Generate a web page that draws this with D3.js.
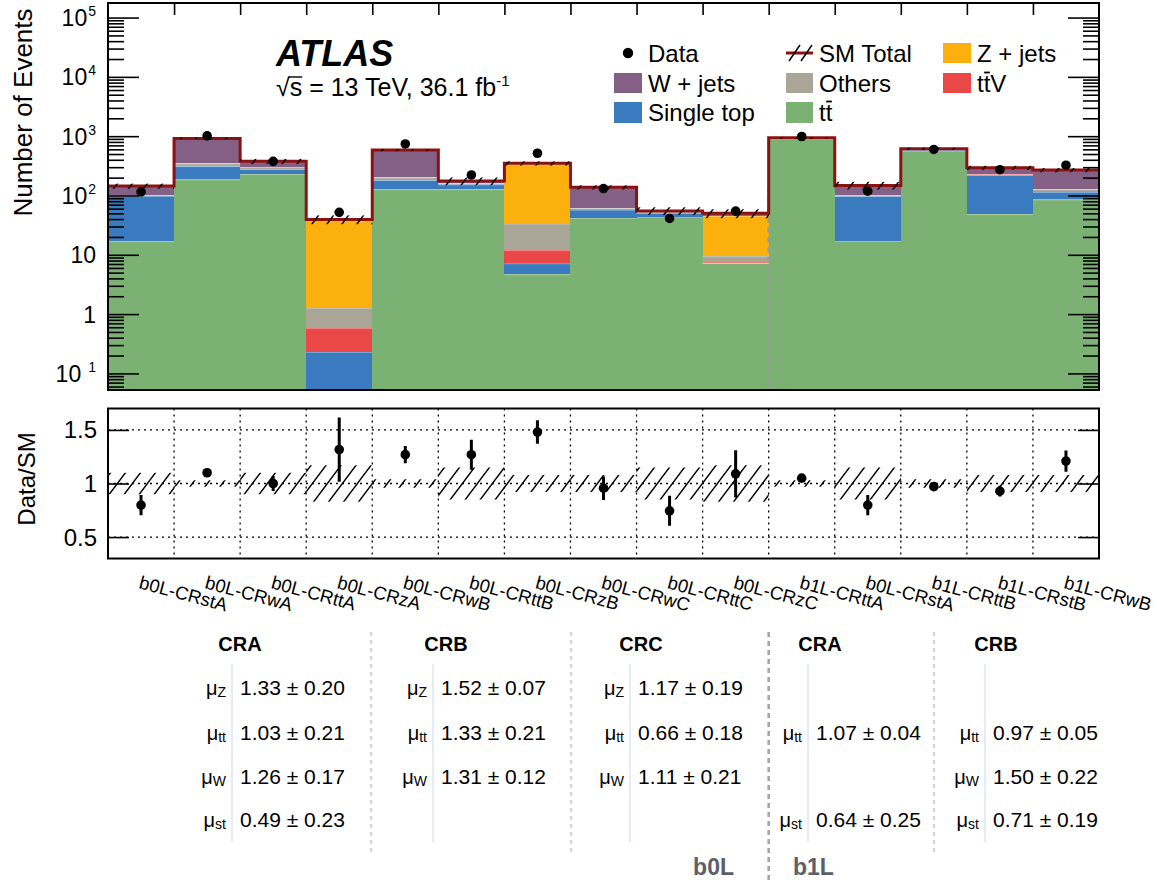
<!DOCTYPE html>
<html><head><meta charset="utf-8">
<script src="https://cdn.jsdelivr.net/npm/d3@7"></script>
<style>
html,body{margin:0;padding:0;background:#fff;}
svg{display:block;font-family:"Liberation Sans",Arial,Helvetica,sans-serif;}
</style></head><body>
<svg id="chart" width="1157" height="884"></svg>
<script>
// ---------------- data ----------------
const categories = ["b0L-CRstA","b0L-CRwA","b0L-CRttA","b0L-CRzA","b0L-CRwB","b0L-CRttB","b0L-CRzB","b0L-CRwC","b0L-CRttC","b0L-CRzC","b1L-CRttA","b0L-CRstA","b1L-CRttB","b1L-CRstB","b1L-CRwB"];
const ttbar     = [17, 187, 230, 0.03, 128, 128, 4.7, 42, 44, 7.3, 900, 17.2, 572, 48.5, 86];
const singleTop = [83, 126, 49, 0.2, 54, 26, 2.5, 16, 7, 0.05, 20, 82, 20, 177, 29];
const ttV       = [0.3, 1, 2, 0.35, 2, 2, 4.8, 0.5, 0.5, 0.15, 5, 0.3, 5, 0.5, 3];
const others    = [0.7, 34, 24, 0.7, 18, 6, 21.7, 2, 1, 2, 10, 0.8, 6, 1.5, 10];
const zjets     = [0.5, 5, 3, 37, 3, 1, 306, 1, 1, 36, 2, 0.5, 2, 0.5, 2];
const wjets     = [42.5, 565, 68, 1.2, 378, 12, 8.3, 75.5, 1.5, 4.5, 3, 47, 10, 65, 138];
const dataObs   = [115, 1010, 376, 52, 740, 222, 515, 131, 41, 54.5, 987, 118, 597, 272, 324];
const dataRatioErr = [0.095, 0.03, 0.07, 0.30, 0.08, 0.14, 0.11, 0.11, 0.14, 0.22, 0.02, 0.095, 0.03, 0.05, 0.10];
const smRelUnc  = [0.10, 0.03, 0.10, 0.17, 0.04, 0.15, 0.08, 0.08, 0.15, 0.17, 0.03, 0.15, 0.04, 0.08, 0.08];

const yTickValues = [0.1, 1, 10, 100, 1000, 10000, 100000];
const yTickBase   = ["10", "1", "10", "10", "10", "10", "10"];
const yTickSup    = ["1", "", "", "2", "3", "4", "5"];
const ratioTicks  = [0.5, 1, 1.5];
const ratioTickLabels = ["0.5", "1", "1.5"];

const muNames   = ["Z", "tt", "W", "st"];
const tblHeaders = ["CRA", "CRB", "CRC", "CRA", "CRB"];
const b0L_CRA = ["1.33 ± 0.20", "1.03 ± 0.21", "1.26 ± 0.17", "0.49 ± 0.23"];
const b0L_CRB = ["1.52 ± 0.07", "1.33 ± 0.21", "1.31 ± 0.12", null];
const b0L_CRC = ["1.17 ± 0.19", "0.66 ± 0.18", "1.11 ± 0.21", null];
const b1L_CRA = [null, "1.07 ± 0.04", null, "0.64 ± 0.25"];
const b1L_CRB = [null, "0.97 ± 0.05", "1.50 ± 0.22", "0.71 ± 0.19"];
const regionLabels = ["b0L", "b1L"];

const keys = ["ttbar","singleTop","ttV","others","zjets","wjets"];
const colors = {ttbar:"#7bb274", singleTop:"#3a7bbf", ttV:"#ea4848", others:"#a9a697", zjets:"#fcb00e", wjets:"#846087"};

// ---------------- layout ----------------
const xL = 108, xR = 1099, yT = 3, yB = 390;
const rT = 408.5, rB = 558.5;
const nB = categories.length;

const svg = d3.select("#chart");
const x = d3.scaleBand().domain(d3.range(nB)).range([xL, xR]).padding(0);
const xEdge = d3.scaleLinear().domain([0, nB]).range([xL, xR]);
const y = d3.scaleLog().domain([0.0525, 1.76e5]).range([yB, yT]).clamp(true);
const yr = d3.scaleLinear().domain([0.3, 1.7]).range([rB, rT]);

const table = categories.map((c, i) => ({i, ttbar: ttbar[i], singleTop: singleTop[i], ttV: ttV[i], others: others[i], zjets: zjets[i], wjets: wjets[i]}));
const stacked = d3.stack().keys(keys)(table);
const total = table.map(d => keys.reduce((s, k) => s + d[k], 0));
const ratio = dataObs.map((v, i) => v / total[i]);

const defs = svg.append("defs");
const pat = defs.append("pattern").attr("id", "hatch").attr("patternUnits", "userSpaceOnUse")
  .attr("width", 15).attr("height", 20);
pat.append("path").attr("d", "M-3.75,5 L3.75,-5 M0,20 L15,0 M11.25,25 L18.75,15")
  .attr("stroke", "#000").attr("stroke-width", 1.4).attr("fill", "none");
defs.append("clipPath").attr("id", "clipTop").append("rect")
  .attr("x", xL).attr("y", yT).attr("width", xR - xL).attr("height", yB - yT);
defs.append("clipPath").attr("id", "clipRat").append("rect")
  .attr("x", xL).attr("y", rT).attr("width", xR - xL).attr("height", rB - rT);

// ---------------- top panel ----------------
const gTop = svg.append("g").attr("clip-path", "url(#clipTop)");
stacked.forEach(layer => {
  gTop.append("g").selectAll("rect").data(layer).join("rect")
    .attr("x", d => x(d.data.i)).attr("width", x.bandwidth())
    .attr("y", d => y(d[1])).attr("height", d => Math.max(0, y(d[0]) - y(d[1])))
    .attr("fill", colors[layer.key]).attr("shape-rendering", "crispEdges");
  gTop.append("g").selectAll("line").data(layer.filter(d => d[1] - d[0] > 0)).join("line")
    .attr("x1", d => x(d.data.i)).attr("x2", d => x(d.data.i) + x.bandwidth())
    .attr("y1", d => y(d[1]) + 0.5).attr("y2", d => y(d[1]) + 0.5)
    .attr("stroke", "#ffffff").attr("stroke-opacity", 0.35).attr("stroke-width", 1);
});

// dashed separator b0L | b1L
gTop.append("line").attr("x1", xEdge(10)).attr("x2", xEdge(10))
  .attr("y1", y(140)).attr("y2", yB)
  .attr("stroke", "#9b9b9b").attr("stroke-width", 2.5).attr("stroke-dasharray", "6,4");

// SM total line
const totPts = d3.range(nB + 1).map(k => [xEdge(k), y(total[Math.min(k, nB - 1)])]);
gTop.append("path").attr("d", d3.line().curve(d3.curveStepAfter)(totPts))
  .attr("fill", "none").attr("stroke", "#8c1111").attr("stroke-width", 3);

// uncertainty hatch band
gTop.append("g").selectAll("rect").data(total).join("rect")
  .attr("x", (d, i) => x(i)).attr("width", x.bandwidth())
  .attr("y", (d, i) => y(d * (1 + smRelUnc[i])))
  .attr("height", (d, i) => y(d * (1 - smRelUnc[i])) - y(d * (1 + smRelUnc[i])))
  .attr("fill", "url(#hatch)");

// data points
gTop.append("g").selectAll("circle").data(dataObs).join("circle")
  .attr("cx", (d, i) => x(i) + x.bandwidth() / 2).attr("cy", d => y(d)).attr("r", 4.8).attr("fill", "#000");

// axes (ticks) top panel
const minorVals = [];
for (let e = -2; e <= 5; e++) for (let m = 2; m <= 9; m++) { const v = m * Math.pow(10, e); if (v > 0.0525 && v < 1.76e5) minorVals.push(v); }
function styleAxis(g) { g.select(".domain").remove(); g.selectAll("text").remove(); g.selectAll("line").attr("stroke", "#000").attr("stroke-width", 1.6); }
svg.append("g").attr("transform", `translate(${xL},0)`).call(d3.axisRight(y).tickValues(yTickValues).tickSize(31)).call(styleAxis);
svg.append("g").attr("transform", `translate(${xL},0)`).call(d3.axisRight(y).tickValues(minorVals).tickSize(16)).call(styleAxis);
svg.append("g").attr("transform", `translate(${xR},0)`).call(d3.axisLeft(y).tickValues(yTickValues).tickSize(31)).call(styleAxis);
svg.append("g").attr("transform", `translate(${xR},0)`).call(d3.axisLeft(y).tickValues(minorVals).tickSize(16)).call(styleAxis);
svg.append("g").attr("transform", `translate(0,${yT})`).call(d3.axisBottom(xEdge).tickValues(d3.range(1, nB)).tickSize(12)).call(styleAxis);

svg.append("rect").attr("x", xL).attr("y", yT).attr("width", xR - xL).attr("height", yB - yT)
  .attr("fill", "none").attr("stroke", "#000").attr("stroke-width", 2);

// y tick labels
yTickValues.forEach((v, i) => {
  const t = svg.append("text").attr("x", 96).attr("y", y(v) + 8.5).attr("text-anchor", "end")
    .attr("font-size", 23).attr("fill", "#000");
  t.append("tspan").text(yTickBase[i]);
  if (yTickSup[i]) {
    t.append("tspan").attr("dx", i === 0 ? 7 : 1).attr("dy", -10).attr("font-size", 14).text(yTickSup[i]);
  }
});
svg.append("text").attr("transform", `translate(32,${(7 + 218) / 2}) rotate(-90)`).attr("text-anchor", "middle")
  .attr("font-size", 26).text("Number of Events");

// ATLAS label
svg.append("text").attr("x", 276).attr("y", 66).attr("font-size", 36).attr("font-weight", "bold")
  .attr("font-style", "italic").text("ATLAS");
const lumi = svg.append("text").attr("x", 276).attr("y", 96).attr("font-size", 25);
lumi.append("tspan").text("√s = 13 TeV, 36.1 fb");
lumi.append("tspan").attr("dy", -10).attr("font-size", 15).text("-1");
{
  const n = lumi.node();
  const p = n.getStartPositionOfChar(1), w = n.getSubStringLength(1, 1);
  svg.append("line").attr("x1", p.x - 1).attr("x2", p.x + w).attr("y1", 96 - 19).attr("y2", 96 - 19)
    .attr("stroke", "#000").attr("stroke-width", 1.4);
}

// legend
const legText = (xx, yy, s) => svg.append("text").attr("x", xx).attr("y", yy).attr("font-size", 24).text(s);
const rowsY = [53, 83, 112];
svg.append("circle").attr("cx", 628).attr("cy", rowsY[0]).attr("r", 5.2).attr("fill", "#000");
legText(648, rowsY[0] + 8.5, "Data");
svg.append("rect").attr("x", 614).attr("y", rowsY[1] - 10).attr("width", 28).attr("height", 20).attr("fill", colors.wjets);
legText(648, rowsY[1] + 8.5, "W + jets");
svg.append("rect").attr("x", 614).attr("y", rowsY[2] - 10).attr("width", 28).attr("height", 21).attr("fill", colors.singleTop);
legText(648, rowsY[2] + 8.5, "Single top");

svg.append("line").attr("x1", 786).attr("x2", 813).attr("y1", rowsY[0]).attr("y2", rowsY[0]).attr("stroke", "#8c1111").attr("stroke-width", 3);
[789, 801].forEach(sx => svg.append("line").attr("x1", sx).attr("y1", rowsY[0] + 8).attr("x2", sx + 11).attr("y2", rowsY[0] - 8).attr("stroke", "#000").attr("stroke-width", 1.4));
legText(819, rowsY[0] + 8.5, "SM Total");
svg.append("rect").attr("x", 786).attr("y", rowsY[1] - 10).attr("width", 27).attr("height", 20).attr("fill", colors.others);
legText(819, rowsY[1] + 8.5, "Others");
svg.append("rect").attr("x", 786).attr("y", rowsY[2] - 10).attr("width", 27).attr("height", 21).attr("fill", colors.ttbar);
const ttbT = legText(819, rowsY[2] + 8.5, "tt");

svg.append("rect").attr("x", 943).attr("y", rowsY[0] - 10).attr("width", 28).attr("height", 20).attr("fill", colors.zjets);
legText(977, rowsY[0] + 8.5, "Z + jets");
svg.append("rect").attr("x", 943).attr("y", rowsY[1] - 10).attr("width", 28).attr("height", 20).attr("fill", colors.ttV);
const ttVT = legText(977, rowsY[1] + 8.5, "ttV");
[[ttbT, rowsY[2] + 8.5], [ttVT, rowsY[1] + 8.5]].forEach(([t, base]) => {
  const n = t.node();
  const p = n.getStartPositionOfChar(1), w = n.getSubStringLength(1, 1);
  svg.append("line").attr("x1", p.x + 0.5).attr("x2", p.x + w - 0.5).attr("y1", base - 19).attr("y2", base - 19)
    .attr("stroke", "#000").attr("stroke-width", 1.8);
});

// ---------------- ratio panel ----------------
const gR = svg.append("g").attr("clip-path", "url(#clipRat)");
gR.append("g").selectAll("line").data(ratioTicks).join("line")
  .attr("x1", xL).attr("x2", xR).attr("y1", d => yr(d)).attr("y2", d => yr(d))
  .attr("stroke", "#000").attr("stroke-width", 1.3).attr("stroke-dasharray", "2,4");
gR.append("g").selectAll("line").data(d3.range(1, nB)).join("line")
  .attr("x1", d => xEdge(d)).attr("x2", d => xEdge(d)).attr("y1", rT).attr("y2", rB)
  .attr("stroke", "#000").attr("stroke-width", 1.3).attr("stroke-dasharray", "2,4");
gR.append("g").selectAll("rect").data(smRelUnc).join("rect")
  .attr("x", (d, i) => x(i)).attr("width", x.bandwidth())
  .attr("y", d => yr(1 + d)).attr("height", d => yr(1 - d) - yr(1 + d))
  .attr("fill", "url(#hatch)");
gR.append("g").selectAll("line").data(ratio).join("line")
  .attr("x1", (d, i) => x(i) + x.bandwidth() / 2).attr("x2", (d, i) => x(i) + x.bandwidth() / 2)
  .attr("y1", (d, i) => yr(d - dataRatioErr[i])).attr("y2", (d, i) => yr(d + dataRatioErr[i]))
  .attr("stroke", "#000").attr("stroke-width", 3);
gR.append("g").selectAll("circle").data(ratio).join("circle")
  .attr("cx", (d, i) => x(i) + x.bandwidth() / 2).attr("cy", d => yr(d)).attr("r", 4.8).attr("fill", "#000");

svg.append("g").attr("transform", `translate(${xL},0)`).call(d3.axisRight(yr).tickValues(ratioTicks).tickSize(21)).call(styleAxis);
svg.append("g").attr("transform", `translate(${xR},0)`).call(d3.axisLeft(yr).tickValues(ratioTicks).tickSize(21)).call(styleAxis);
svg.append("rect").attr("x", xL).attr("y", rT).attr("width", xR - xL).attr("height", rB - rT)
  .attr("fill", "none").attr("stroke", "#000").attr("stroke-width", 2);
ratioTicks.forEach((v, i) => svg.append("text").attr("x", 97).attr("y", yr(v) + 8.5).attr("text-anchor", "end")
  .attr("font-size", 24).text(ratioTickLabels[i]));
svg.append("text").attr("transform", `translate(35,${479}) rotate(-90)`).attr("text-anchor", "middle")
  .attr("font-size", 24).text("Data/SM");

// category labels
svg.append("g").selectAll("text").data(categories).join("text")
  .attr("transform", (d, i) => `translate(${x(i) + x.bandwidth() / 2 - 3},588) rotate(15)`)
  .attr("font-size", 18.5).text(d => d);

// ---------------- fit table ----------------
const colLineX = [232, 433, 630, 808, 985];
const colHeadX = [240, 446, 641, 820, 996];
const colVals = [b0L_CRA, b0L_CRB, b0L_CRC, b1L_CRA, b1L_CRB];
const rowBase = [695, 740, 784, 827];
const sepX = [371, 571, 934];
sepX.forEach(sx => svg.append("line").attr("x1", sx).attr("x2", sx).attr("y1", 632).attr("y2", 855)
  .attr("stroke", "#d6d6d6").attr("stroke-width", 2.5).attr("stroke-dasharray", "4,4"));
svg.append("line").attr("x1", xEdge(10)).attr("x2", xEdge(10)).attr("y1", 632).attr("y2", 884)
  .attr("stroke", "#a3a3a3").attr("stroke-width", 2.5).attr("stroke-dasharray", "5,4");

colVals.forEach((vals, c) => {
  svg.append("text").attr("x", colHeadX[c]).attr("y", 651).attr("text-anchor", "middle")
    .attr("font-size", 20).attr("font-weight", "bold").text(tblHeaders[c]);
  svg.append("line").attr("x1", colLineX[c]).attr("x2", colLineX[c]).attr("y1", 664).attr("y2", 842)
    .attr("stroke", "#d8e7f3").attr("stroke-width", 1.5);
  vals.forEach((v, r) => {
    if (!v) return;
    const t = svg.append("text").attr("x", colLineX[c] - 6).attr("y", rowBase[r]).attr("text-anchor", "end").attr("font-size", 20);
    t.append("tspan").text("μ");
    t.append("tspan").attr("dy", 2).attr("font-size", 14).text(muNames[r]);
    svg.append("text").attr("x", colLineX[c] + 8).attr("y", rowBase[r]).attr("font-size", 21).text(v);
  });
});
svg.append("text").attr("x", 734).attr("y", 875).attr("text-anchor", "end").attr("font-size", 23)
  .attr("font-weight", "bold").attr("fill", "#5b6068").text(regionLabels[0]);
svg.append("text").attr("x", 793).attr("y", 875).attr("font-size", 23)
  .attr("font-weight", "bold").attr("fill", "#5b6068").text(regionLabels[1]);
</script>
</body></html>
